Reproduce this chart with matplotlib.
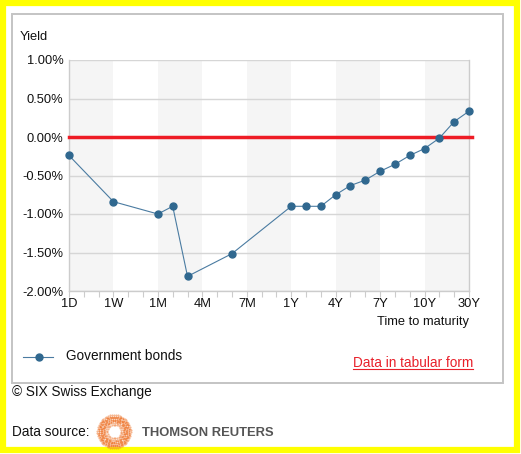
import numpy as np
import matplotlib
matplotlib.use("Agg")
import matplotlib.pyplot as plt
from matplotlib.patches import Rectangle

plt.rcParams["font.family"] = ["Liberation Sans", "DejaVu Sans"]

W, H = 521, 454

# every slot on the maturity axis, only some of them carry a quote
slots = ["1D", "2D", "3D", "1W", "2W", "3W", "1M", "2M", "3M", "4M", "5M", "6M",
	"7M", "8M", "9M", "1Y", "2Y", "3Y", "4Y", "5Y", "6Y", "7Y", "8Y", "9Y",
	"10Y", "15Y", "20Y", "30Y"]
tick_labels = ["1D", "1W", "1M", "4M", "7M", "1Y", "4Y", "7Y", "10Y", "30Y"]

maturities = ["1D", "1W", "1M", "2M", "3M", "6M", "1Y", "2Y", "3Y", "4Y", "5Y",
	"6Y", "7Y", "8Y", "9Y", "10Y", "15Y", "20Y", "30Y"]
yields = [-0.24, -0.84, -1.00, -0.90, -1.81, -1.515, -0.90, -0.90, -0.90, -0.75,
	-0.63, -0.56, -0.445, -0.355, -0.24, -0.15, -0.015, 0.20, 0.335]

y_ticks = [1.0, 0.5, 0.0, -0.5, -1.0, -1.5, -2.0]


def px(x, y):
	# pixel position (from top left) to figure fraction
	return x / W, 1 - y / H


def draw_logo(fig, cx, cy):
	# ring of small orange dots, roughly like the Thomson Reuters mark
	for k, r in enumerate(np.arange(7.0, 18.0, 1.6)):
		cnt = int(2 * np.pi * r / 1.9)
		a = np.linspace(0, 2 * np.pi, cnt, endpoint=False) + 0.3 * k
		xs = (cx + r * np.cos(a)) / W
		ys = 1 - (cy + r * np.sin(a)) / H
		alpha = 0.85 if 9 < r < 15 else 0.55
		fig.lines.append(plt.Line2D(xs, ys, ls="none", marker="o", ms=1.5,
			mec="none", mfc="#ef7a34", alpha=alpha, transform=fig.transFigure))


if __name__ == "__main__":
	fig = plt.figure(figsize=(W / 100, H / 100), dpi=100)

	# yellow frame and grey box
	fig.add_artist(Rectangle(px(3, 449.5), 514 / W, 446.5 / H, transform=fig.transFigure,
		fill=False, edgecolor="#ffff00", linewidth=4.5))
	fig.add_artist(Rectangle(px(12, 383), 491 / W, 369 / H, transform=fig.transFigure,
		fill=False, edgecolor="#c4c4c4", linewidth=1.4))

	x0, x1, ytop, ybot = 69, 469, 60, 291
	ax = fig.add_axes([x0 / W, 1 - ybot / H, (x1 - x0) / W, (ybot - ytop) / H])

	n = len(slots)
	ax.set_xlim(0, n - 1)
	ax.set_ylim(-2.0, 1.0)

	# alternating bands
	for i in range(0, n - 1, 6):
		ax.axvspan(i, i + 3, color="#f5f5f5", lw=0, zorder=0)

	for v in y_ticks:
		ax.axhline(v, color="#d6d6d6", lw=1.0, zorder=1)
	ax.axhline(0, xmax=1.008, color="#ee1c25", lw=2.5, zorder=3, clip_on=False)

	xs = [slots.index(m) for m in maturities]
	ax.plot(xs, yields, color="#4a7ba1", lw=0.8, marker="o", ms=5.0,
		mfc="#30688f", mec="#30688f", zorder=4, clip_on=False)

	ax.spines["top"].set_visible(False)
	for s in ["left", "right", "bottom"]:
		ax.spines[s].set_color("#cccccc")
		ax.spines[s].set_linewidth(1.0)

	ax.set_xticks([slots.index(t) for t in tick_labels])
	ax.set_xticklabels(tick_labels)
	ax.set_xticks(range(n), minor=True)
	ax.tick_params(axis="x", which="both", length=4.5, width=0.8, color="#cccccc",
		labelsize=9.3, pad=0.8, labelcolor="#111111")
	ax.set_yticks(y_ticks)
	ax.set_yticklabels(["%.2f%%" % v for v in y_ticks])
	ax.tick_params(axis="y", length=0, labelsize=9.3, pad=4, labelcolor="#111111")

	fig.text(*px(20, 37), "Yield", fontsize=9.3, va="center", ha="left", color="#111111")
	fig.text(*px(469, 321.5), "Time to maturity", fontsize=9.3, va="center", ha="right",
		color="#111111")

	# legend
	fig.lines.append(plt.Line2D([23 / W, 53 / W], [1 - 356.5 / H] * 2, color="#4a7ba1",
		lw=0.8, transform=fig.transFigure))
	fig.lines.append(plt.Line2D([39 / W], [1 - 356.5 / H], ls="none", marker="o", ms=5.0,
		mfc="#30688f", mec="#30688f", transform=fig.transFigure))
	fig.text(*px(65.5, 356), "Government bonds", fontsize=9.8, va="center", ha="left",
		color="#111111")

	fig.text(*px(353, 363), "Data in tabular form", fontsize=9.8, va="center",
		ha="left", color="#e8202a")
	fig.lines.append(plt.Line2D([353 / W, 473 / W], [1 - 368.5 / H] * 2, color="#e8202a",
		lw=0.8, transform=fig.transFigure))

	fig.text(*px(11.5, 392), "\u00a9 SIX Swiss Exchange", fontsize=9.8, va="center",
		ha="left", color="#111111")
	fig.text(*px(12, 432), "Data source:", fontsize=9.8, va="center", ha="left",
		color="#111111")
	draw_logo(fig, 114, 431.5)
	fig.text(*px(141.5, 432.5), "THOMSON REUTERS", fontsize=9.4, fontweight="bold",
		va="center", ha="left", color="#555555")

	plt.savefig("out.png", dpi=100)
